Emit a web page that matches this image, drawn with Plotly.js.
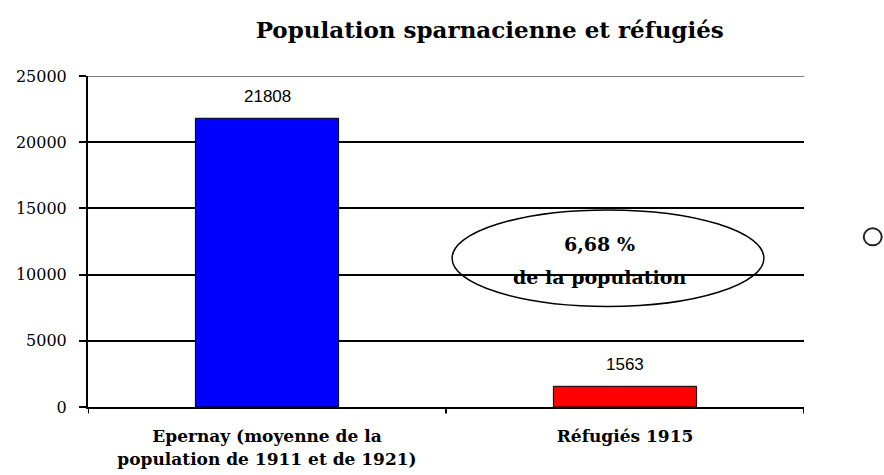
<!DOCTYPE html>
<html><head><meta charset="utf-8">
<script src="https://cdn.plot.ly/plotly-3.0.1.min.js"></script>
<style>html,body{margin:0;padding:0;background:#fff}#chart{width:884px;height:475px}</style>
</head><body><div id="chart"></div>
<script>
const categories = ["Epernay (moyenne de la<br>population de 1911 et de 1921)", "Réfugiés 1915"];
const values = [21808, 1563];
const barColors = ["#0000ff", "#ff0000"];
const yTicks = [0, 5000, 10000, 15000, 20000, 25000];
const titleText = "Population sparnacienne et réfugiés";
const noteLines = ["6,68 %", "de la population"];

const serif = "DejaVu Serif, serif";
const xPos = values.map((v, i) => i);
const trace = {
  type: "bar",
  x: xPos,
  y: values,
  width: 0.4,
  marker: {color: barColors, line: {color: "#000", width: 1}},
  hoverinfo: "none"
};
const valueLabels = values.map((v, i) => ({
  xref: "x", yref: "y", x: xPos[i], y: v, text: String(v), showarrow: false,
  yanchor: "bottom", yshift: 10,
  font: {family: "Liberation Sans, Arial, sans-serif", size: 17, color: "#000"}
}));
const layout = {
  width: 884, height: 475,
  margin: {l: 88, r: 80, t: 76, b: 68},
  paper_bgcolor: "#fff", plot_bgcolor: "#fff",
  showlegend: false,
  title: {text: "<b>" + titleText + "</b>", font: {family: serif, size: 23, color: "#000"}, x: 0.554, xanchor: "center", y: 0.938, yanchor: "middle"},
  xaxis: {
    range: [-0.5, 1.5], tickvals: xPos, ticktext: categories.map(c => "<b>" + c + "</b>"),
    tickfont: {family: serif, size: 17, color: "#000"},
    showgrid: false, zeroline: false, showline: true, linecolor: "#000", linewidth: 2,
    ticks: "", ticklabelstandoff: 13, fixedrange: true
  },
  yaxis: {
    range: [0, 25000], tickvals: yTicks, ticktext: yTicks.map(String),
    tickfont: {family: serif, size: 16, color: "#000"},
    showgrid: true, gridcolor: "#000", gridwidth: 2,
    zeroline: false, showline: true, linecolor: "#000", linewidth: 2,
    ticks: "outside", ticklen: 7, tickcolor: "#000", tickwidth: 2, ticklabelstandoff: 9,
    fixedrange: true
  },
  shapes: [
    {type: "line", xref: "paper", yref: "y", x0: 0, x1: 1, y0: 25000, y1: 25000, line: {color: "#808080", width: 2}},
    {type: "line", xref: "x", yref: "paper", x0: -0.5, x1: -0.5, y0: 0, y1: -0.02, line: {color: "#000", width: 2}},
    {type: "line", xref: "x", yref: "paper", x0: 0.5, x1: 0.5, y0: 0, y1: -0.02, line: {color: "#000", width: 2}},
    {type: "line", xref: "x", yref: "paper", x0: 1.5, x1: 1.5, y0: 0, y1: -0.02, line: {color: "#000", width: 2}},
    {type: "circle", xref: "x", yref: "y", x0: 0.517, x1: 1.388, y0: 7594, y1: 14887, line: {color: "#000", width: 1.5}},
    {type: "circle", xref: "paper", yref: "paper", xsizemode: "pixel", ysizemode: "pixel", xanchor: 1.096, yanchor: 0.514, x0: -9, x1: 9, y0: -8.5, y1: 8.5, line: {color: "#222", width: 2}}
  ],
  annotations: [
    {xref: "x", yref: "y", x: 0.93, y: 12300, text: "<b>" + noteLines[0] + "</b>", showarrow: false, font: {family: serif, size: 19, color: "#000"}},
    {xref: "x", yref: "y", x: 0.93, y: 9800, text: "<b>" + noteLines[1] + "</b>", showarrow: false, font: {family: serif, size: 19, color: "#000"}}
  ].concat(valueLabels)
};
Plotly.newPlot("chart", [trace], layout, {displayModeBar: false, staticPlot: true});
</script></body></html>
